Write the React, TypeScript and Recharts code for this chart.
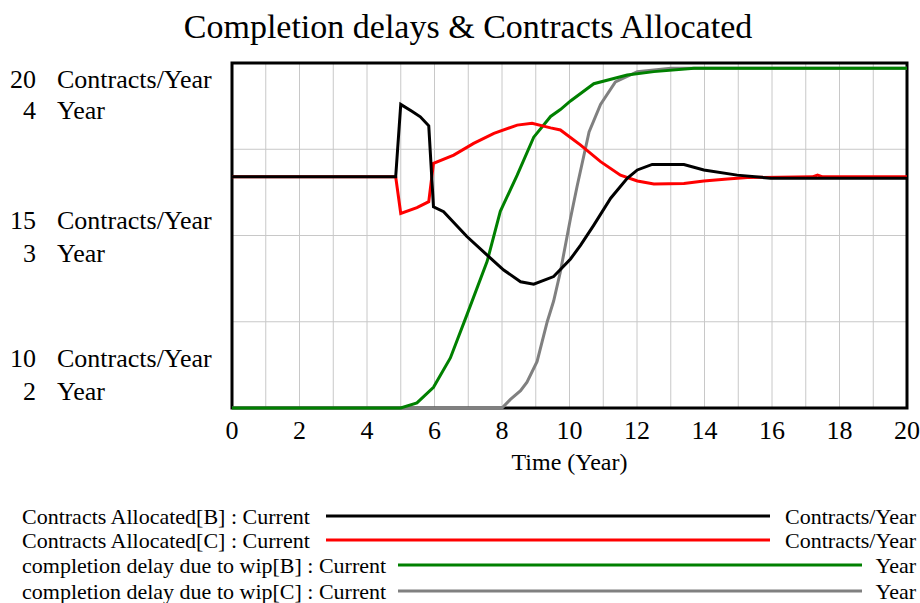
import React from 'react';
import { LineChart, Line, XAxis, YAxis, CartesianGrid, ReferenceArea } from 'recharts';

const chartTitle = 'Completion delays & Contracts Allocated';

// time axis
const timeTicks = [0, 1, 2, 3, 4, 5, 6, 7, 8, 9, 10, 11, 12, 13, 14, 15, 16, 17, 18, 19, 20];
const timeLabelTicks = [0, 2, 4, 6, 8, 10, 12, 14, 16, 18, 20];
const timeAxisLabel = 'Time (Year)';

// left axis: contracts scale with the year scale stacked under it
const contractTicks = [10, 12.5, 15, 17.5, 20];
const contractLabelTicks = [10, 15, 20];
const yearLabelTicks = [2, 3, 4];
const contractUnit = 'Contracts/Year';
const yearUnit = 'Year';

// [time, value]
const allocatedB: [number, number][] = [
  [0, 16.7], [4.85, 16.7], [5.0, 18.8], [5.33, 18.6], [5.58, 18.44], [5.83, 18.18],
  [5.97, 15.83], [6.27, 15.69], [6.96, 14.97], [7.56, 14.43], [8.05, 14.0], [8.55, 13.66],
  [8.94, 13.59], [9.53, 13.81], [10.03, 14.32], [10.33, 14.72], [10.72, 15.3], [11.22, 16.08],
  [11.71, 16.66], [12.01, 16.9], [12.45, 17.06], [13.39, 17.06], [13.98, 16.9], [14.97, 16.75],
  [15.96, 16.66], [20, 16.66],
];

const allocatedC: [number, number][] = [
  [0, 16.7], [4.85, 16.7], [5.0, 15.64], [5.48, 15.81], [5.83, 15.98], [5.97, 17.09],
  [6.57, 17.33], [7.16, 17.67], [7.76, 17.96], [8.45, 18.2], [8.89, 18.25], [9.44, 18.12],
  [9.73, 18.06], [10.33, 17.62], [10.92, 17.14], [11.51, 16.75], [12.01, 16.58], [12.5, 16.49],
  [13.39, 16.51], [13.98, 16.58], [14.68, 16.64], [15.27, 16.68], [17.2, 16.7], [17.35, 16.75],
  [17.5, 16.7], [20, 16.7],
];

const delayB: [number, number][] = [
  [0, 2], [5, 2], [5.48, 2.03], [5.97, 2.12], [6.47, 2.29], [6.96, 2.54], [7.56, 2.85],
  [7.95, 3.14], [8.45, 3.35], [8.94, 3.57], [9.44, 3.69], [9.73, 3.73], [10.03, 3.78],
  [10.72, 3.88], [11.71, 3.93], [12.5, 3.95], [13.69, 3.97], [20, 3.97],
];

const delayC: [number, number][] = [
  [0, 2], [8, 2], [8.25, 2.05], [8.55, 2.1], [8.74, 2.15], [9.04, 2.27], [9.34, 2.5],
  [9.53, 2.62], [9.73, 2.79], [10.03, 3.1], [10.23, 3.29], [10.58, 3.6], [10.92, 3.76],
  [11.36, 3.89], [12.01, 3.95], [13.0, 3.97], [20, 3.97],
];

const legendNames = [
  'Contracts Allocated[B] : Current',
  'Contracts Allocated[C] : Current',
  'completion delay due to wip[B] : Current',
  'completion delay due to wip[C] : Current',
];
const legendUnits = ['Contracts/Year', 'Contracts/Year', 'Year', 'Year'];
const seriesColors = ['#000000', '#ff0000', '#008000', '#808080'];

const toPoints = (arr: [number, number][]) => arr.map(([t, v]) => ({ t, v }));

const FONT = "'Liberation Serif', 'Times New Roman', serif";

const YTick = (props: any) => {
  const { y, payload } = props;
  const idx = contractLabelTicks.indexOf(payload.value);
  if (idx < 0) return null;
  // bottom / middle / top label pairs sit inside the plot height
  const offsets = [[-50, -17], [-16, 17], [16, 47]][idx];
  return (
    <g fontFamily={FONT} fontSize={26} fill="#000">
      <text x={36} y={y + offsets[0]} dy="0.35em" textAnchor="end">{contractLabelTicks[idx]}</text>
      <text x={57} y={y + offsets[0]} dy="0.35em">{contractUnit}</text>
      <text x={36} y={y + offsets[1]} dy="0.35em" textAnchor="end">{yearLabelTicks[idx]}</text>
      <text x={57} y={y + offsets[1]} dy="0.35em">{yearUnit}</text>
    </g>
  );
};

const XTick = (props: any) => {
  const { x, payload } = props;
  if (!timeLabelTicks.includes(payload.value)) return null;
  return (
    <text x={x} y={430} dy="0.35em" textAnchor="middle" fontFamily={FONT} fontSize={26} fill="#000">
      {payload.value}
    </text>
  );
};

const App: React.FC = () => {
  const series = [
    { name: 'delayC', data: toPoints(delayC), axis: 'y', color: seriesColors[3] },
    { name: 'delayB', data: toPoints(delayB), axis: 'y', color: seriesColors[2] },
    { name: 'allocatedC', data: toPoints(allocatedC), axis: 'c', color: seriesColors[1] },
    { name: 'allocatedB', data: toPoints(allocatedB), axis: 'c', color: seriesColors[0] },
  ];

  const legendRows = [516, 540, 565, 591];
  const lineStart = [326, 326, 398, 398];
  const lineEnd = [770, 770, 862, 862];

  return (
    <div style={{ position: 'absolute', left: 0, top: 0, width: 920, height: 603, background: '#fff' }}>
      <div
        style={{
          position: 'absolute', left: 0, top: 9, width: 936, textAlign: 'center',
          fontFamily: FONT, fontSize: 34, lineHeight: '36px', color: '#000',
        }}
      >
        {chartTitle}
      </div>
      <div style={{ position: 'absolute', left: 0, top: 0 }}>
        <LineChart width={920} height={603} margin={{ top: 63, right: 13, left: 0, bottom: 135 }}>
          <CartesianGrid yAxisId="c" stroke="#c8c8c8" strokeWidth={1} />
          <XAxis
            dataKey="t"
            type="number"
            domain={[0, 20]}
            ticks={timeTicks}
            tick={<XTick />}
            tickLine={false}
            axisLine={false}
            height={60}
            allowDuplicatedCategory={false}
            label={{ value: timeAxisLabel, position: 'bottom', offset: -15, fill: '#000', fontSize: 24, fontFamily: FONT }}
          />
          <YAxis
            yAxisId="c"
            type="number"
            domain={[10, 20]}
            ticks={contractTicks}
            tick={<YTick />}
            tickLine={false}
            axisLine={false}
            width={232}
          />
          <YAxis yAxisId="y" type="number" domain={[2, 4]} hide />
          <ReferenceArea yAxisId="c" x1={0} x2={20} y1={10} y2={20} fill="none" stroke="#000" strokeWidth={3} />
          {series.map((s) => (
            <Line
              key={s.name}
              yAxisId={s.axis}
              data={s.data}
              dataKey="v"
              type="linear"
              stroke={s.color}
              strokeWidth={3}
              dot={false}
              activeDot={false}
              isAnimationActive={false}
            />
          ))}
        </LineChart>
      </div>
      <svg width={920} height={603} style={{ position: 'absolute', left: 0, top: 0, pointerEvents: 'none' }}>
        {legendNames.map((name, i) => (
          <g key={name} fontFamily={FONT} fontSize={22} fill="#000">
            <text x={22} y={legendRows[i]} dy="0.35em">{name}</text>
            <line x1={lineStart[i]} x2={lineEnd[i]} y1={legendRows[i]} y2={legendRows[i]} stroke={seriesColors[i]} strokeWidth={3} />
            <text x={916} y={legendRows[i]} dy="0.35em" textAnchor="end">{legendUnits[i]}</text>
          </g>
        ))}
      </svg>
    </div>
  );
};

export default App;
